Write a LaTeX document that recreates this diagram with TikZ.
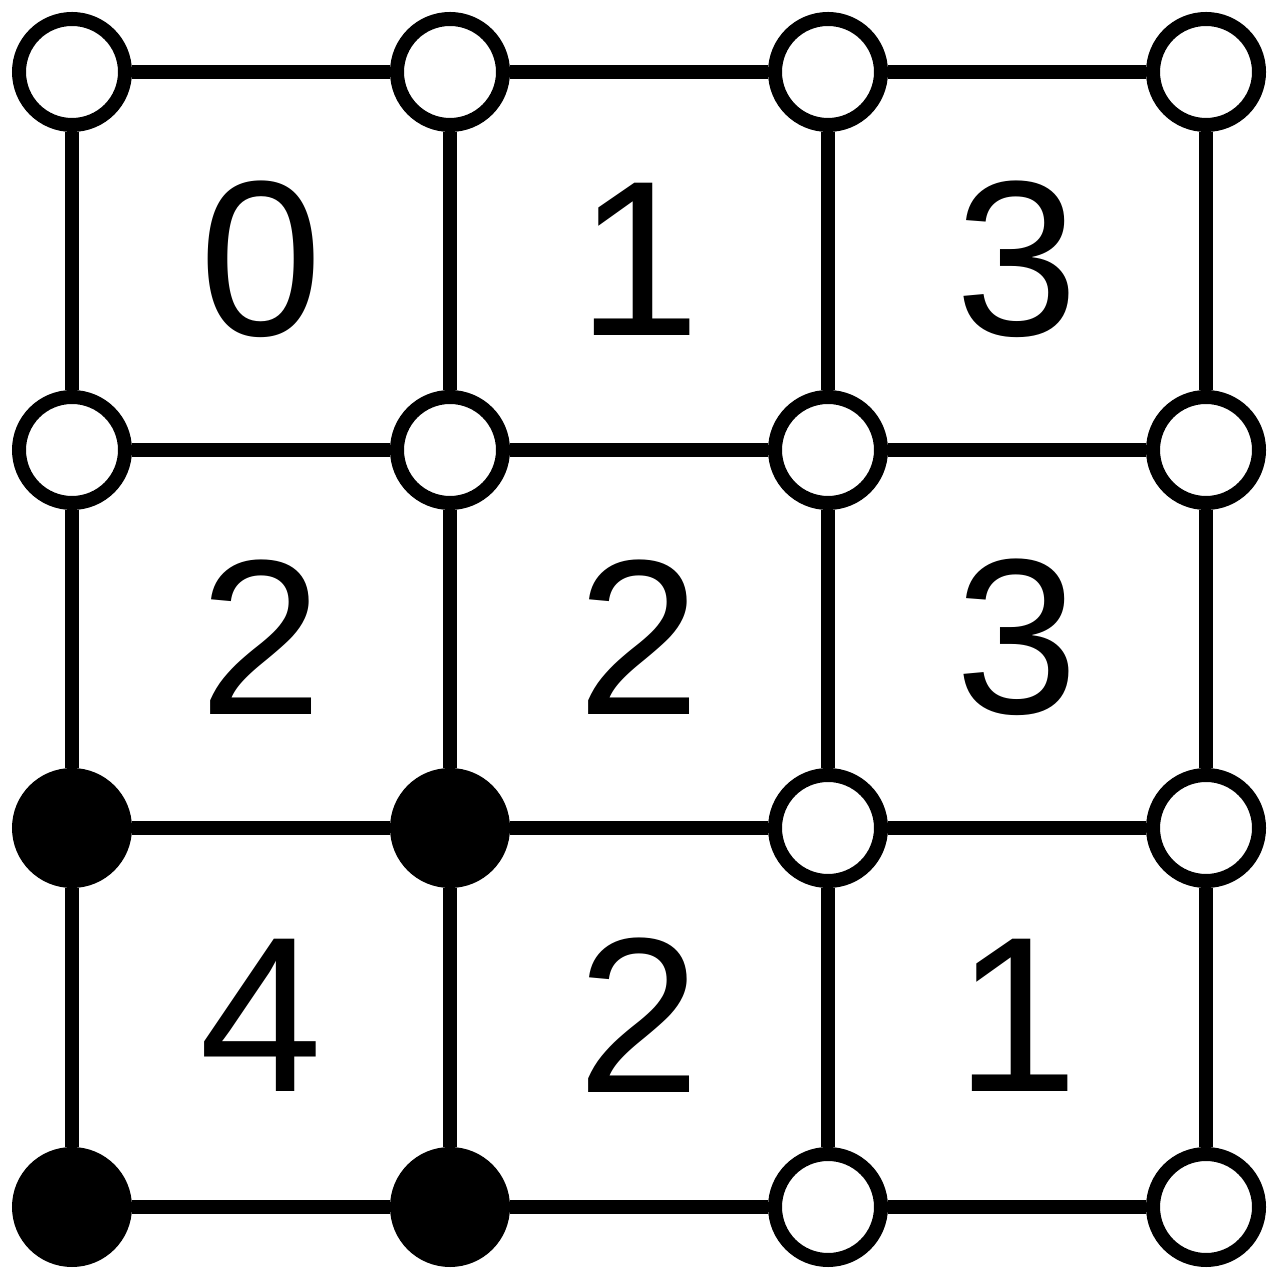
\documentclass[tikz,border=0pt]{standalone}
\usepackage{fontspec}
\setmainfont{Liberation Sans}
\usepackage{tikz}
\usetikzlibrary{positioning}

\begin{document}
\begin{tikzpicture}[
 vertex/.style={circle, draw, fill=white, line width=0.14cm, minimum size=1.06cm, inner sep=0pt},
 taken/.style={vertex, fill=black},
 edge/.style={line width=0.14cm},
 count/.style={font=\fontsize{63}{63}\selectfont, inner sep=0pt}
]
\useasboundingbox (0,0) rectangle (12.82,12.73);

% Row 1
\node[vertex] (v11) at (0.72,12.01) {};
\node[vertex] (v12) at (4.50,12.01) {};
\node[vertex] (v13) at (8.28,12.01) {};
\node[vertex] (v14) at (12.06,12.01) {};

% Row 2
\node[vertex] (v21) at (0.72,8.23) {};
\node[vertex] (v22) at (4.50,8.23) {};
\node[vertex] (v23) at (8.28,8.23) {};
\node[vertex] (v24) at (12.06,8.23) {};

% Row 3
\node[taken] (v31) at (0.72,4.45) {};
\node[taken] (v32) at (4.50,4.45) {};
\node[vertex] (v33) at (8.28,4.45) {};
\node[vertex] (v34) at (12.06,4.45) {};

% Row 4
\node[taken] (v41) at (0.72,0.66) {};
\node[taken] (v42) at (4.50,0.66) {};
\node[vertex] (v43) at (8.28,0.66) {};
\node[vertex] (v44) at (12.06,0.66) {};

% Horizontal edges
\draw[edge] (v11) -- (v12);
\draw[edge] (v12) -- (v13);
\draw[edge] (v13) -- (v14);
\draw[edge] (v21) -- (v22);
\draw[edge] (v22) -- (v23);
\draw[edge] (v23) -- (v24);
\draw[edge] (v31) -- (v32);
\draw[edge] (v32) -- (v33);
\draw[edge] (v33) -- (v34);
\draw[edge] (v41) -- (v42);
\draw[edge] (v42) -- (v43);
\draw[edge] (v43) -- (v44);

% Vertical edges
\draw[edge] (v11) -- (v21);
\draw[edge] (v21) -- (v31);
\draw[edge] (v31) -- (v41);
\draw[edge] (v12) -- (v22);
\draw[edge] (v22) -- (v32);
\draw[edge] (v32) -- (v42);
\draw[edge] (v13) -- (v23);
\draw[edge] (v23) -- (v33);
\draw[edge] (v33) -- (v43);
\draw[edge] (v14) -- (v24);
\draw[edge] (v24) -- (v34);
\draw[edge] (v34) -- (v44);

% Cell counts
\node[count] (c11) at (2.61,10.14) {0};
\node[count] (c12) at (6.39,10.14) {1};
\node[count] (c13) at (10.17,10.14) {3};
\node[count] (c21) at (2.61,6.36) {2};
\node[count] (c22) at (6.39,6.36) {2};
\node[count] (c23) at (10.17,6.36) {3};
\node[count] (c31) at (2.61,2.58) {4};
\node[count] (c32) at (6.39,2.58) {2};
\node[count] (c33) at (10.17,2.58) {1};

\end{tikzpicture}
\end{document}
